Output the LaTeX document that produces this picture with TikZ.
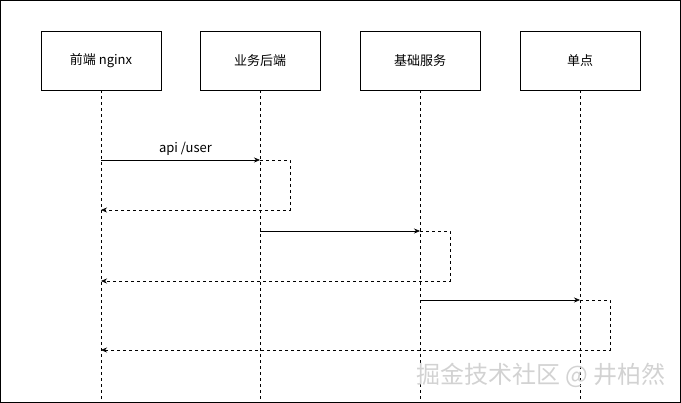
\documentclass[tikz,border=0pt]{standalone}
\usepackage{fontspec}
\setmainfont{Noto Sans CJK SC}
\usetikzlibrary{arrows.meta}
\begin{document}
\begin{tikzpicture}[x=1pt,y=-1pt,
  actor/.style={draw,minimum width=120pt,minimum height=59pt,font=\fontsize{13}{15}\selectfont,inner sep=0},
  life/.style={dashed,line width=0.6pt},
  msg/.style={-{Stealth[length=6pt,width=5pt]},line width=0.6pt},
  ret/.style={dashed,-{Stealth[length=6pt,width=5pt]},line width=0.6pt}]
\draw[line width=0.8pt] (0.5,0.5) rectangle (680.5,402.5);
\useasboundingbox (0,0) rectangle (681,403);
\node[actor] (a) at (101,60.5) {前端 nginx};
\node[actor] (b) at (260,60.5) {业务后端};
\node[actor] (c) at (420,60.5) {基础服务};
\node[actor] (d) at (580,60.5) {单点};
\coordinate (ae) at (101,403); \coordinate (be) at (260,403);
\coordinate (ce) at (420,403); \coordinate (de) at (580,403);
\foreach \n in {a,b,c,d} \draw[life] (\n.south) -- (\n e);
\coordinate (a1) at (101,160); \coordinate (b1) at (260,160);
\coordinate (b2) at (260,231); \coordinate (c2) at (420,231);
\coordinate (c3) at (420,300); \coordinate (d3) at (580,300);
\coordinate (r1) at (101,210); \coordinate (r2) at (101,281); \coordinate (r3) at (101,350);
\draw[msg] (a1) -- node[above,font=\fontsize{13}{15}\selectfont,yshift=1pt,xshift=5pt]{api /user} (b1);
\draw[ret] (b1) -- ++(30,0) |- (r1);
\draw[msg] (b2) -- (c2);
\draw[ret] (c2) -- ++(30,0) |- (r2);
\draw[msg] (c3) -- (d3);
\draw[ret] (d3) -- ++(30,0) |- (r3);
\node[text=gray!35,font=\fontsize{24}{26}\selectfont,anchor=east,inner sep=0] (w) at (666,375) {掘金技术社区 @ 井柏然};
\end{tikzpicture}
\end{document}
